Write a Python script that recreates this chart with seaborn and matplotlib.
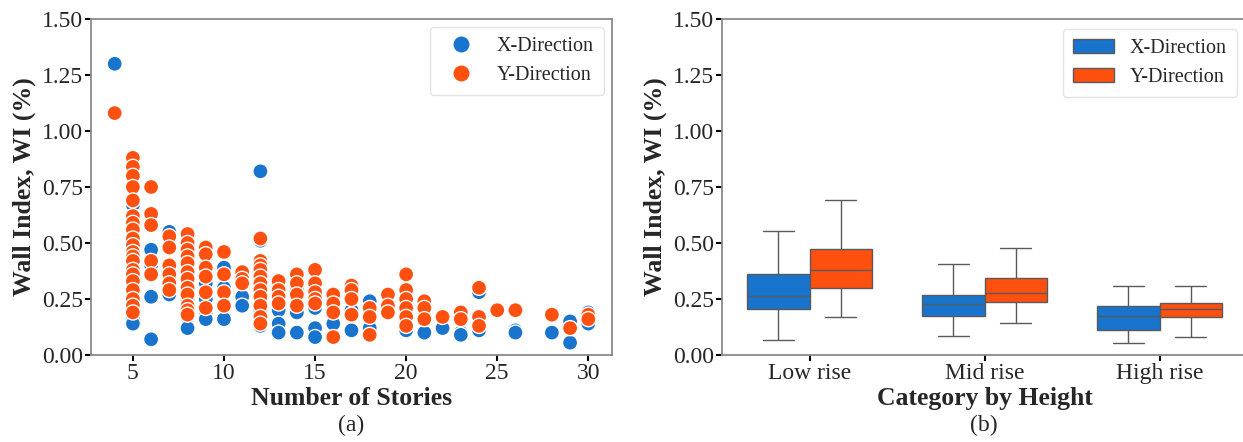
import matplotlib
matplotlib.use("Agg")
import matplotlib.pyplot as plt
import seaborn as sns
import pandas as pd

# ---------------- data: scatter (a) ----------------
stories_x = [4,
             5, 5, 5, 5, 5, 5, 5, 5, 5, 5, 5,
             6, 6, 6, 6,
             7, 7, 7, 7, 7,
             8, 8, 8, 8, 8, 8, 8, 8,
             9, 9, 9, 9, 9, 9,
             10, 10, 10,
             11, 11, 11,
             12, 12, 12, 12, 12, 12,
             13, 13, 13,
             14, 14, 14,
             15, 15, 15,
             16, 16,
             17, 17,
             18, 18,
             19,
             20, 20,
             21, 21,
             22,
             23, 23,
             24, 24,
             26, 26,
             28,
             29, 29,
             30, 30]
wi_x = [1.30,
        0.67, 0.60, 0.50, 0.45, 0.40, 0.35, 0.30, 0.25, 0.20, 0.17, 0.14,
        0.47, 0.40, 0.26, 0.07,
        0.55, 0.52, 0.38, 0.30, 0.27,
        0.45, 0.40, 0.35, 0.30, 0.25, 0.20, 0.17, 0.12,
        0.47, 0.40, 0.32, 0.25, 0.19, 0.16,
        0.39, 0.30, 0.16,
        0.33, 0.26, 0.22,
        0.82, 0.51, 0.40, 0.30, 0.20, 0.13,
        0.20, 0.14, 0.10,
        0.30, 0.19, 0.10,
        0.21, 0.12, 0.08,
        0.22, 0.14,
        0.20, 0.11,
        0.24, 0.12,
        0.20,
        0.23, 0.11,
        0.16, 0.10,
        0.12,
        0.10, 0.09,
        0.28, 0.11,
        0.11, 0.10,
        0.10,
        0.15, 0.055,
        0.19, 0.14]

stories_y = [4,
             5, 5, 5, 5, 5, 5, 5, 5, 5, 5, 5, 5, 5, 5, 5, 5, 5, 5, 5, 5,
             6, 6, 6, 6, 6,
             7, 7, 7, 7, 7, 7,
             8, 8, 8, 8, 8, 8, 8, 8, 8, 8, 8, 8,
             9, 9, 9, 9, 9, 9,
             10, 10, 10, 10,
             11, 11, 11,
             12, 12, 12, 12, 12, 12, 12, 12, 12, 12, 12,
             13, 13, 13, 13,
             14, 14, 14, 14,
             15, 15, 15, 15, 15,
             16, 16, 16, 16,
             17, 17, 17, 17,
             18, 18, 18,
             19, 19, 19,
             20, 20, 20, 20, 20, 20,
             21, 21, 21,
             22,
             23, 23,
             24, 24, 24,
             25,
             26,
             28,
             29,
             30, 30]
wi_y = [1.08,
        0.88, 0.84, 0.80, 0.75, 0.69, 0.62, 0.59, 0.56, 0.52, 0.49,
        0.46, 0.44, 0.42, 0.38, 0.36, 0.33, 0.29, 0.25, 0.22, 0.19,
        0.75, 0.63, 0.58, 0.42, 0.36,
        0.53, 0.48, 0.40, 0.36, 0.32, 0.29,
        0.54, 0.50, 0.47, 0.44, 0.41, 0.37, 0.34, 0.30, 0.27, 0.22, 0.20, 0.18,
        0.48, 0.45, 0.39, 0.35, 0.28, 0.21,
        0.46, 0.36, 0.28, 0.22,
        0.37, 0.34, 0.32,
        0.52, 0.42, 0.40, 0.38, 0.35, 0.32, 0.29, 0.26, 0.22, 0.17, 0.14,
        0.33, 0.29, 0.26, 0.23,
        0.36, 0.32, 0.27, 0.22,
        0.38, 0.32, 0.28, 0.25, 0.23,
        0.27, 0.23, 0.19, 0.08,
        0.31, 0.29, 0.25, 0.18,
        0.21, 0.17, 0.09,
        0.27, 0.22, 0.19,
        0.36, 0.29, 0.25, 0.21, 0.17, 0.13,
        0.24, 0.21, 0.16,
        0.17,
        0.19, 0.16,
        0.30, 0.17, 0.13,
        0.20,
        0.20,
        0.18,
        0.12,
        0.18, 0.16]

# ---------------- data: box plot (b) five-number summaries ----------------
categories = ["Low rise", "Mid rise", "High rise"]
directions = ["X-Direction", "Y-Direction"]
# [whisker low, Q1, median, Q3, whisker high]
low_x = [0.067, 0.207, 0.265, 0.360, 0.553]
low_y = [0.171, 0.301, 0.381, 0.474, 0.693]
mid_x = [0.085, 0.173, 0.226, 0.270, 0.405]
mid_y = [0.142, 0.235, 0.279, 0.344, 0.478]
high_x = [0.055, 0.110, 0.173, 0.220, 0.307]
high_y = [0.082, 0.170, 0.204, 0.234, 0.307]

colors = ["#1874CD", "#FF5010"]

# ---------------- build frames ----------------
scatter_df = pd.DataFrame({
    "Stories": list(stories_x) + list(stories_y),
    "WI": list(wi_x) + list(wi_y),
    "Direction": [directions[0]] * len(wi_x) + [directions[1]] * len(wi_y),
})

rows = []
for cat, sx, sy in zip(categories, [low_x, mid_x, high_x], [low_y, mid_y, high_y]):
    for v in sx:
        rows.append((cat, directions[0], v))
    for v in sy:
        rows.append((cat, directions[1], v))
box_df = pd.DataFrame(rows, columns=["Category", "Direction", "WI"])

# ---------------- style ----------------
sns.set_style("white")
plt.rcParams["font.family"] = ["Liberation Serif", "DejaVu Serif"]
plt.rcParams["axes.edgecolor"] = "#8a8a8a"
plt.rcParams["axes.linewidth"] = 1.3

fig = plt.figure(figsize=(12.43, 4.42), dpi=100)
ax1 = fig.add_axes([91 / 1243, 87 / 442, (612 - 91) / 1243, (355 - 19) / 442])
ax2 = fig.add_axes([722 / 1243, 87 / 442, (1247 - 722) / 1243, (355 - 19) / 442])

tick_fs = 17
label_fs = 18.5
legend_fs = 14.5

# ---- (a) scatter ----
sns.scatterplot(data=scatter_df, x="Stories", y="WI", hue="Direction",
                palette=colors, s=118, edgecolor="white", linewidth=1.0,
                ax=ax1)
ax1.set_ylim(0, 1.5)
ax1.set_yticks([0, 0.25, 0.5, 0.75, 1.0, 1.25, 1.5])
ax1.set_yticklabels([f"{t:.2f}" for t in [0, 0.25, 0.5, 0.75, 1.0, 1.25, 1.5]])
ax1.set_xticks([5, 10, 15, 20, 25, 30])
ax1.set_xlabel("Number of Stories", fontsize=label_fs, fontweight="bold", labelpad=2)
ax1.set_ylabel("Wall Index, WI (%)", fontsize=label_fs, fontweight="bold", labelpad=4)
h, l = ax1.get_legend_handles_labels()
ax1.legend(h, l, loc="upper right", fontsize=legend_fs, frameon=True,
           markerscale=1.15, borderpad=0.5, borderaxespad=0.4)

# ---- (b) box plot ----
sns.boxplot(data=box_df, x="Category", y="WI", hue="Direction",
            order=categories, hue_order=directions, palette=colors,
            width=0.71, gap=0, whis=(0, 100), showfliers=False,
            linecolor="#5a5a5a", linewidth=1.0, saturation=1, ax=ax2)
ax2.set_ylim(0, 1.5)
ax2.set_xlim(-0.5, 2.5)
ax2.set_yticks([0, 0.25, 0.5, 0.75, 1.0, 1.25, 1.5])
ax2.set_yticklabels([f"{t:.2f}" for t in [0, 0.25, 0.5, 0.75, 1.0, 1.25, 1.5]])
ax2.set_xlabel("Category by Height", fontsize=label_fs, fontweight="bold", labelpad=2)
ax2.set_ylabel("Wall Index, WI (%)", fontsize=label_fs, fontweight="bold", labelpad=4)
h, l = ax2.get_legend_handles_labels()
ax2.legend(h, l, loc="upper right", fontsize=legend_fs, frameon=True,
           borderpad=0.5, borderaxespad=0.5)

for ax in (ax1, ax2):
    for sp in ax.spines.values():
        sp.set_visible(True)
        sp.set_color("#8a8a8a")
    ax.tick_params(axis="both", which="major", labelsize=tick_fs, length=4,
                   width=1.5, color="black", direction="out",
                   bottom=True, left=True, pad=2)
    leg = ax.get_legend()
    leg.get_frame().set_edgecolor("#dddddd")
    leg.get_frame().set_linewidth(1.0)

fig.text(351 / 1243, 1 - 425 / 442, "(a)", ha="center", va="center", fontsize=tick_fs)
fig.text(984 / 1243, 1 - 425 / 442, "(b)", ha="center", va="center", fontsize=tick_fs)

fig.savefig("out.png", dpi=100)
